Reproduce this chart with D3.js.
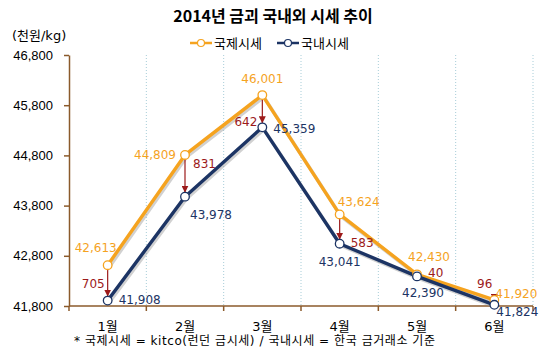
<!DOCTYPE html>
<html>
<head>
<meta charset="utf-8">
<script src="https://cdn.jsdelivr.net/npm/d3@7"></script>
<style>
  body { margin: 0; background: #fff; }
  text { font-family: "DejaVu Sans", "Noto Sans CJK KR", sans-serif; }
</style>
</head>
<body>
<div id="chart"></div>
<script>
// 2014 gold price, international vs domestic (thousand won / kg)
const months = ["1월", "2월", "3월", "4월", "5월", "6월"];
const intl = [42613, 44809, 46001, 43624, 42430, 41920];
const domestic = [41908, 43978, 45359, 43041, 42390, 41824];
const yTicks = [41800, 42800, 43800, 44800, 45800, 46800];

const width = 550, height = 351,
      margin = ({ top: 55, right: 17, bottom: 45, left: 69 });

const orange = "#f5a31f", navy = "#1c3464", red = "#9c1a1a", brown = "#8b5a2b";

let svg = d3.select("#chart")
    .append("svg")
    .attr("width", width)
    .attr("height", height);

let defs = svg.append("defs");
defs.append("marker")
    .attr("id", "arrow")
    .attr("viewBox", "0 0 10 10")
    .attr("refX", 10).attr("refY", 5)
    .attr("markerWidth", 7).attr("markerHeight", 7)
    .attr("markerUnits", "userSpaceOnUse")
    .attr("orient", "auto")
    .append("path")
    .attr("d", "M0,0L10,5L0,10Z")
    .attr("fill", red);

let x = d3.scaleBand()
    .domain(months)
    .range([margin.left, width - margin.right]);

let y = d3.scaleLinear()
    .domain([41800, 46800])
    .range([height - margin.bottom, margin.top]);

const cx = d => x(d) + x.bandwidth() / 2;

// vertical dotted grid at category boundaries
svg.append("g")
    .selectAll("line")
    .data(months)
    .join("line")
    .attr("x1", d => x(d) + x.bandwidth()).attr("x2", d => x(d) + x.bandwidth())
    .attr("y1", y(46800)).attr("y2", y(41800))
    .attr("stroke", "#a8cdd8")
    .attr("stroke-dasharray", "1,2");

// y axis
let yAxis = svg.append("g")
    .attr("transform", `translate(${margin.left},0)`)
    .call(d3.axisLeft(y).tickValues(yTicks).tickFormat(d3.format(",")).tickSize(5).tickSizeOuter(0));
yAxis.selectAll("path, line").attr("stroke", brown).attr("stroke-width", 1.5);
yAxis.selectAll("text").attr("font-size", 13).attr("fill", "#000")
    .attr("x", -16).style("font-family", "Liberation Sans, sans-serif");

// x axis with ticks at boundaries
let xAxis = svg.append("g")
    .attr("transform", `translate(0,${y(41800)})`);
xAxis.append("line")
    .attr("x1", margin.left).attr("x2", width - margin.right)
    .attr("stroke", brown).attr("stroke-width", 1.5);
xAxis.selectAll(".tk")
    .data([margin.left].concat(months.map(d => x(d) + x.bandwidth())))
    .join("line")
    .attr("x1", d => d).attr("x2", d => d)
    .attr("y1", 0).attr("y2", 5)
    .attr("stroke", brown).attr("stroke-width", 1.5);
xAxis.selectAll(".lbl")
    .data(months)
    .join("text")
    .attr("x", d => cx(d))
    .attr("y", 25)
    .attr("text-anchor", "middle")
    .attr("font-size", 13)
    .text(d => d);

// lines with soft shadow
const line = vals => d3.line()
    .x((d, i) => cx(months[i]))
    .y(d => y(d))(vals);

[[intl, orange], [domestic, navy]].forEach(([vals, col]) => {
    svg.append("path")
        .attr("d", line(vals))
        .attr("transform", "translate(1.5,2)")
        .attr("fill", "none")
        .attr("stroke", "#999")
        .attr("stroke-opacity", 0.45)
        .attr("stroke-width", 3.5);
    svg.append("path")
        .attr("d", line(vals))
        .attr("fill", "none")
        .attr("stroke", col)
        .attr("stroke-width", 3.4)
        .attr("stroke-linejoin", "round");
});

// difference arrows
svg.append("g")
    .selectAll("line")
    .data(months)
    .join("line")
    .attr("x1", d => cx(d)).attr("x2", d => cx(d))
    .attr("y1", (d, i) => y(intl[i]))
    .attr("y2", (d, i) => y(domestic[i]) - 4)
    .attr("stroke", red)
    .attr("stroke-width", 1.2)
    .attr("marker-end", "url(#arrow)");

// markers
[[intl, orange], [domestic, navy]].forEach(([vals, col]) => {
    svg.append("g")
        .selectAll("circle")
        .data(vals)
        .join("circle")
        .attr("cx", (d, i) => cx(months[i]))
        .attr("cy", d => y(d))
        .attr("r", 4.3)
        .attr("fill", "#fff")
        .attr("stroke", col)
        .attr("stroke-width", 1.3);
});

// value label placement: [dx, dy, anchor]
const intlPos = [[9, -13, "end"], [-9, 4.5, "end"], [0, -12, "middle"], [-2, -8, "start"], [-9, -13, "start"], [1, -2, "start"]];
const domPos = [[11, 3.5, "start"], [5, 22, "start"], [11, 6, "start"], [0, 22, "middle"], [6, 20.5, "middle"], [2, 11, "start"]];
const diffPos = [[-3, 5, "end"], [8, -8, "start"], [-5, 15, "end"], [11, 18, "start"], [11, 1.5, "start"], [-2, -14.5, "end"]];

const fmt = d3.format(",");
const labelFont = 12;

svg.append("g")
    .selectAll("text")
    .data(intl)
    .join("text")
    .attr("x", (d, i) => cx(months[i]) + intlPos[i][0])
    .attr("y", (d, i) => y(d) + intlPos[i][1])
    .attr("text-anchor", (d, i) => intlPos[i][2])
    .attr("font-size", labelFont)
    .attr("fill", orange)
    .text(d => fmt(d));

svg.append("g")
    .selectAll("text")
    .data(domestic)
    .join("text")
    .attr("x", (d, i) => cx(months[i]) + domPos[i][0])
    .attr("y", (d, i) => y(d) + domPos[i][1])
    .attr("text-anchor", (d, i) => domPos[i][2])
    .attr("font-size", labelFont)
    .attr("fill", navy)
    .text(d => fmt(d));

svg.append("g")
    .selectAll("text")
    .data(months)
    .join("text")
    .attr("x", (d, i) => cx(d) + diffPos[i][0])
    .attr("y", (d, i) => (y(intl[i]) + y(domestic[i])) / 2 + diffPos[i][1])
    .attr("text-anchor", (d, i) => diffPos[i][2])
    .attr("font-size", labelFont)
    .attr("fill", red)
    .text((d, i) => intl[i] - domestic[i]);

// title, unit, legend, footnote
svg.append("text")
    .attr("x", width / 2 - 2).attr("y", 22)
    .attr("text-anchor", "middle")
    .attr("font-size", 16).attr("font-weight", "bold")
    .style("font-family", "Noto Sans CJK KR, sans-serif")
    .text("2014년 금괴 국내외 시세 추이");

svg.append("text")
    .attr("x", 12).attr("y", 40)
    .attr("font-size", 13)
    .text("(천원/kg)");

const legend = [["국제시세", orange, 190], ["국내시세", navy, 277]];
legend.forEach(([name, col, lx]) => {
    let g = svg.append("g").attr("transform", `translate(${lx},43)`);
    g.append("line").attr("x1", 0).attr("x2", 22).attr("stroke", col).attr("stroke-width", 2.5);
    g.append("circle").attr("cx", 11).attr("r", 3.5).attr("fill", "#fff").attr("stroke", col).attr("stroke-width", 1.2);
    g.append("text").attr("x", 24).attr("y", 5).attr("font-size", 13).text(name);
});

svg.append("text")
    .attr("x", 74).attr("y", 345)
    .attr("font-size", 12)
    .attr("textLength", 361)
    .attr("lengthAdjust", "spacing")
    .text("* 국제시세 = kitco(런던 금시세) / 국내시세 = 한국 금거래소 기준");
</script>
</body>
</html>
